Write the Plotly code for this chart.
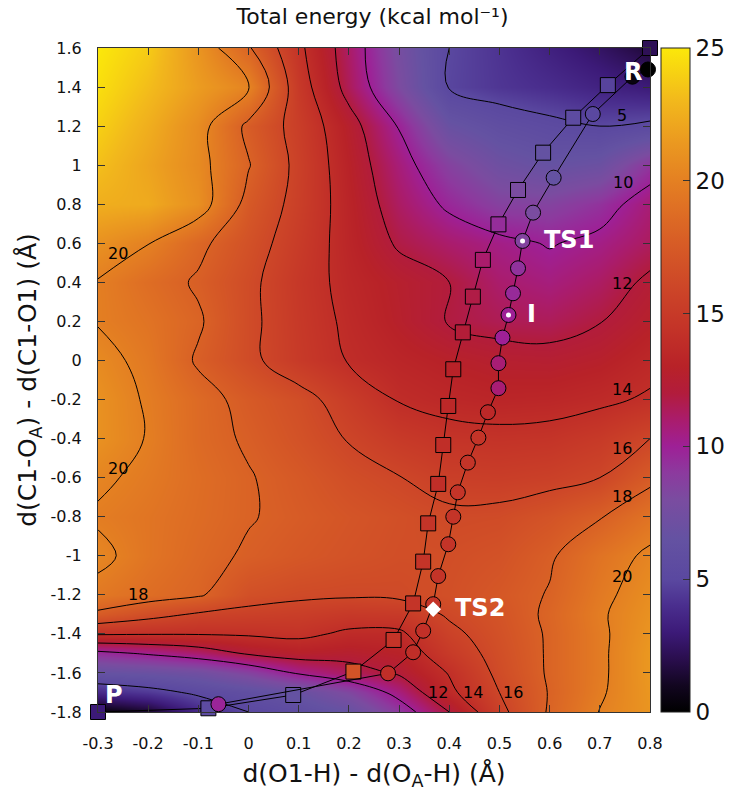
import plotly.graph_objects as go

# ---------------- data ----------------
x_grid = [-0.3, -0.2, -0.1, 0.0, 0.1, 0.2, 0.3, 0.4, 0.5, 0.6, 0.7, 0.8]
y_grid = [1.6, 1.4, 1.2, 1.0, 0.8, 0.6, 0.4, 0.2, 0.0, -0.2, -0.4, -0.6, -0.8,
          -1.0, -1.2, -1.3, -1.4, -1.5, -1.6, -1.7, -1.8]
energy = [
    [25.0, 23.8, 21.2, 18.2, 14.4, 11.1, 7.7, 5.0, 4.2, 3.3, 2.5, 1.5],
    [24.6, 23.2, 21.6, 20.2, 14.9, 11.4, 8.1, 4.9, 4.3, 3.9, 3.4, 3.0],
    [24.0, 22.5, 20.7, 17.6, 15.3, 12.7, 9.9, 6.8, 5.9, 5.4, 5.0, 5.3],
    [23.3, 22.0, 20.6, 18.1, 15.5, 13.0, 10.7, 8.6, 7.2, 6.6, 7.0, 9.2],
    [22.5, 22.3, 20.9, 17.4, 15.4, 13.2, 11.2, 9.7, 8.6, 8.5, 9.3, 10.8],
    [21.0, 20.05, 18.4, 16.8, 15.1, 13.3, 11.8, 11.0, 10.4, 9.9, 10.4, 11.3],
    [19.9, 18.8, 17.8, 16.4, 14.8, 13.5, 12.7, 12.0, 11.0, 10.6, 11.2, 12.3],
    [19.9, 19.2, 18.2, 16.4, 14.9, 13.7, 12.8, 11.9, 11.5, 11.4, 11.95, 12.8],
    [20.6, 19.5, 17.8, 16.4, 15.0, 13.9, 13.3, 12.9, 12.6, 12.5, 12.8, 13.5],
    [21.0, 19.8, 18.6, 17.5, 16.6, 15.2, 13.9, 13.5, 13.3, 13.4, 13.7, 14.2],
    [21.0, 19.9, 18.6, 17.8, 16.9, 15.9, 15.0, 14.5, 14.4, 14.5, 15.0, 16.0],
    [20.3, 19.6, 18.8, 18.1, 17.4, 16.6, 16.05, 15.4, 15.3, 15.5, 16.0, 17.6],
    [19.8, 19.3, 18.7, 18.1, 17.6, 17.1, 16.7, 16.3, 16.4, 17.0, 17.9, 19.2],
    [20.4, 19.3, 18.5, 17.8, 17.3, 16.9, 16.6, 16.6, 16.9, 17.8, 19.2, 20.3],
    [19.5, 18.8, 18.2, 16.7, 16.3, 16.2, 16.3, 16.7, 17.3, 18.1, 19.6, 20.8],
    [17.6, 16.6, 15.8, 15.5, 15.3, 14.9, 15.0, 16.2, 17.0, 18.3, 19.8, 21.0],
    [14.2, 14.1, 14.1, 14.2, 14.4, 13.7, 13.7, 15.6, 16.8, 18.2, 19.7, 21.2],
    [9.5, 10.2, 11.0, 12.2, 12.8, 12.6, 13.0, 15.0, 16.6, 18.2, 19.7, 21.4],
    [6.5, 6.8, 7.3, 8.5, 10.2, 11.3, 12.2, 14.1, 16.4, 18.2, 19.7, 21.4],
    [3.8, 4.4, 5.3, 6.0, 6.8, 8.3, 10.6, 13.6, 16.0, 18.1, 19.8, 21.3],
    [0.3, 1.2, 3.6, 5.0, 5.6, 6.6, 9.0, 12.0, 15.5, 18.2, 20.05, 21.2],
]

square_x = [0.8, 0.716, 0.647, 0.587, 0.537, 0.498, 0.467, 0.447, 0.427, 0.408, 0.398,
            0.388, 0.378, 0.358, 0.348, 0.328, 0.289, 0.209, 0.089, -0.08, -0.3]
square_y = [1.6, 1.41, 1.243, 1.064, 0.873, 0.697, 0.515, 0.327, 0.144, -0.045, -0.233,
            -0.433, -0.632, -0.834, -1.03, -1.244, -1.431, -1.593, -1.713, -1.781, -1.8]
square_e = [2.2, 4.8, 5.5, 6.5, 8.0, 9.5, 11.0, 11.8, 12.2, 13.0, 13.5,
            14.0, 14.0, 14.5, 14.5, 14.5, 14.5, 17.0, 6.5, 5.5, 3.0]

circle_x = [0.796, 0.765, 0.686, 0.608, 0.567, 0.546, 0.537, 0.527, 0.518, 0.506, 0.498, 0.498,
            0.477, 0.458, 0.437, 0.417, 0.408, 0.398, 0.378, 0.368, 0.348, 0.328, 0.278, -0.06]
circle_y = [1.49, 1.453, 1.262, 0.936, 0.757, 0.612, 0.472, 0.344, 0.233, 0.117, -0.014, -0.142,
            -0.265, -0.395, -0.523, -0.675, -0.8, -0.941, -1.104, -1.248, -1.384, -1.494, -1.602, -1.76]
circle_e = [0.0, 0.5, 5.0, 6.5, 8.0, 8.5, 9.3, 9.6, 10.0, 10.0, 10.8, 10.8,
            13.5, 14.5, 14.5, 14.5, 14.5, 14.5, 14.5, 14.5, 14.2, 14.0, 14.0, 9.8]

dot_x = [0.546, 0.518]          # TS1, I
dot_y = [0.612, 0.233]
ts2_x = [0.368]
ts2_y = [-1.274]

label_text = ["R", "TS1", "I", "TS2", "P"]
label_x = [0.766, 0.639, 0.564, 0.461, -0.268]
label_y = [1.475, 0.617, 0.238, -1.267, -1.713]

clabel_text = ["5", "10", "12", "14", "16", "18", "20", "20", "20", "18", "12", "14", "16"]
clabel_x = [0.745, 0.747, 0.745, 0.745, 0.745, 0.745, 0.745, -0.26, -0.26, -0.22, 0.378, 0.448, 0.527]
clabel_y = [1.252, 0.91, 0.392, -0.151, -0.453, -0.694, -1.104, 0.549, -0.552, -1.2, -1.701, -1.701, -1.701]

x_ticks = [-0.3, -0.2, -0.1, 0.0, 0.1, 0.2, 0.3, 0.4, 0.5, 0.6, 0.7, 0.8]
x_tick_labels = ["-0.3", "-0.2", "-0.1", "0", "0.1", "0.2", "0.3", "0.4", "0.5", "0.6", "0.7", "0.8"]
y_ticks = [1.6, 1.4, 1.2, 1.0, 0.8, 0.6, 0.4, 0.2, 0.0, -0.2, -0.4, -0.6, -0.8,
           -1.0, -1.2, -1.4, -1.6, -1.8]
y_tick_labels = ["1.6", "1.4", "1.2", "1", "0.8", "0.6", "0.4", "0.2", "0", "-0.2", "-0.4",
                 "-0.6", "-0.8", "-1", "-1.2", "-1.4", "-1.6", "-1.8"]
cb_ticks = [0, 5, 10, 15, 20, 25]
cb_tick_labels = ["0", "5", "10", "15", "20", "25"]

# ---------------- style ----------------
FONT = "DejaVu Sans"
colorscale = [
    [0.00, "#000000"], [0.04, "#120620"], [0.08, "#2a0e4e"], [0.12, "#3c1a78"],
    [0.16, "#4a2e8e"], [0.20, "#5a48a0"], [0.26, "#6452a2"], [0.32, "#7a4ca0"],
    [0.36, "#8c3a9e"], [0.40, "#9e2096"], [0.44, "#aa1c6c"], [0.48, "#b21c3c"],
    [0.52, "#b82228"], [0.58, "#c43428"], [0.64, "#cd4628"], [0.70, "#d65a26"],
    [0.76, "#df7024"], [0.80, "#e48022"], [0.86, "#eb9a20"], [0.92, "#f2b81c"],
    [1.00, "#fbe80a"],
]

# page body has an 8px default margin; size the figure to compensate
FIG_W, FIG_H = 737, 791

fig = go.Figure()

fig.add_trace(go.Heatmap(
    x=x_grid, y=y_grid, z=energy, zmin=0, zmax=25, colorscale=colorscale,
    zsmooth="best", hoverinfo="skip", showlegend=False,
    colorbar=dict(
        x=1.0197, xanchor="left", xpad=0, y=0.5, yanchor="middle", ypad=0,
        len=1, lenmode="fraction", thickness=29, thicknessmode="pixels",
        outlinewidth=1, outlinecolor="#222",
        tickvals=cb_ticks, ticktext=cb_tick_labels,
        ticks="inside", ticklen=7, tickcolor="#333",
        tickfont=dict(family=FONT, size=23, color="#111"),
    ),
))

# contour lines: 10..20 every 2, plus 5
fig.add_trace(go.Contour(
    x=x_grid, y=y_grid, z=energy, showscale=False, hoverinfo="skip", showlegend=False,
    contours=dict(start=10, end=20, size=2, coloring="none"),
    line=dict(color="black", width=1, smoothing=1.1),
))
fig.add_trace(go.Contour(
    x=x_grid, y=y_grid, z=energy, showscale=False, hoverinfo="skip", showlegend=False,
    contours=dict(start=5, end=5, size=1, coloring="none"),
    line=dict(color="black", width=1, smoothing=1.1),
))

fig.add_trace(go.Scatter(
    x=square_x, y=square_y, mode="lines+markers", cliponaxis=False,
    line=dict(color="black", width=1),
    marker=dict(symbol="square", size=15, color=square_e, colorscale=colorscale,
                cmin=0, cmax=25, line=dict(color="black", width=1)),
    showlegend=False, hoverinfo="skip",
))
fig.add_trace(go.Scatter(
    x=circle_x, y=circle_y, mode="lines+markers", cliponaxis=False,
    line=dict(color="black", width=1),
    marker=dict(symbol="circle", size=15, color=circle_e, colorscale=colorscale,
                cmin=0, cmax=25, line=dict(color="black", width=1)),
    showlegend=False, hoverinfo="skip",
))
fig.add_trace(go.Scatter(
    x=dot_x, y=dot_y, mode="markers", cliponaxis=False,
    marker=dict(symbol="circle", size=5, color="white"),
    showlegend=False, hoverinfo="skip",
))
fig.add_trace(go.Scatter(
    x=ts2_x, y=ts2_y, mode="markers", cliponaxis=False,
    marker=dict(symbol="diamond", size=12, color="white"),
    showlegend=False, hoverinfo="skip",
))

annotations = []
for t, xx, yy in zip(label_text, label_x, label_y):
    annotations.append(dict(x=xx, y=yy, xref="x", yref="y", text="<b>%s</b>" % t,
                            showarrow=False, font=dict(family=FONT, size=24, color="white")))
for t, xx, yy in zip(clabel_text, clabel_x, clabel_y):
    annotations.append(dict(x=xx, y=yy, xref="x", yref="y", text=t,
                            showarrow=False, font=dict(family=FONT, size=16, color="black")))

axis_common = dict(
    showline=True, linecolor="#333", linewidth=1, mirror="ticks",
    ticks="inside", ticklen=7, tickcolor="#333", showgrid=False, zeroline=False,
    tickfont=dict(family=FONT, size=16, color="#111"),
)

fig.update_layout(
    width=FIG_W, height=FIG_H,
    showlegend=False,
    margin=dict(l=90, r=90, t=40, b=87),
    paper_bgcolor="white", plot_bgcolor="white",
    title=dict(text="Total energy (kcal mol⁻¹)", x=364.5 / FIG_W, xref="container",
               xanchor="center", y=1 - 1 / FIG_H, yref="container", yanchor="top",
               font=dict(family=FONT, size=22, color="#111")),
    xaxis=dict(range=[-0.3, 0.8], tickvals=x_ticks, ticktext=x_tick_labels,
               ticklabelstandoff=17,
               title=dict(text="d(O1-H) - d(O<sub>A</sub>-H) (Å)", standoff=12,
                          font=dict(family=FONT, size=25, color="#111")),
               **axis_common),
    yaxis=dict(range=[-1.8, 1.6], tickvals=y_ticks, ticktext=y_tick_labels,
               ticklabelstandoff=12,
               title=dict(text="d(C1-O<sub>A</sub>) - d(C1-O1) (Å)", standoff=6,
                          font=dict(family=FONT, size=25, color="#111")),
               **axis_common),
    annotations=annotations,
)

fig.write_html("out.html")
